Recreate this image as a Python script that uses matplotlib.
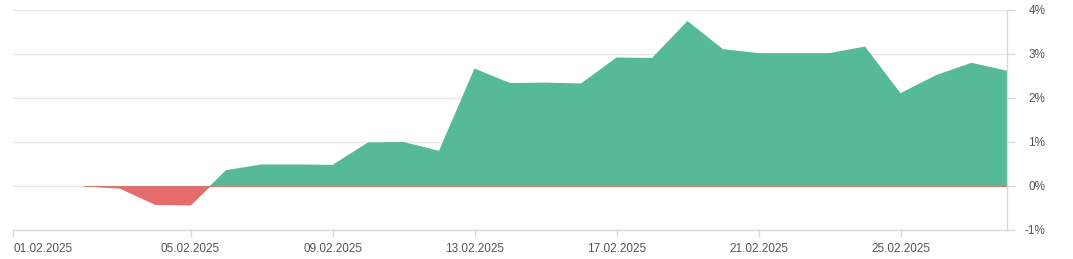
import matplotlib.pyplot as plt
import numpy as np

# days counted from 31.01.2025 (axis starts there)
days = np.arange(2, 29)
values = [0.0, -0.05, -0.42, -0.43, 0.36, 0.49, 0.49, 0.48, 0.99, 1.00, 0.80,
          2.67, 2.34, 2.35, 2.33, 2.92, 2.91, 3.75, 3.11, 3.02, 3.02, 3.02,
          3.17, 2.11, 2.52, 2.80, 2.62]
tick_days = [0, 5, 9, 13, 17, 21, 25]
tick_labels = ['01.02.2025', '05.02.2025', '09.02.2025', '13.02.2025',
               '17.02.2025', '21.02.2025', '25.02.2025']
y_ticks = [-1, 0, 1, 2, 3, 4]

plt.rcParams['font.family'] = ['Liberation Sans', 'DejaVu Sans']

fig = plt.figure(figsize=(10.73, 2.59), dpi=100)
ax = fig.add_axes([13/1073, 1-230/259, (1007-13)/1073, 220/259])

vals = np.array(values)
ax.fill_between(days, vals, 0, where=vals >= 0, interpolate=True,
                color='#43b38d', alpha=0.9, linewidth=0, zorder=2)
ax.fill_between(days, vals, 0, where=vals <= 0, interpolate=True,
                color='#e65b5b', alpha=0.9, linewidth=0, zorder=2)
ax.plot([days[0], days[-1]], [0, 0], color='#c8826e', linewidth=0.8, zorder=3)

ax.set_xlim(0, 28)
ax.set_ylim(-1, 4)

ax.yaxis.tick_right()
ax.set_yticks(y_ticks)
ax.set_yticklabels([f'{v}%' for v in y_ticks])
for lbl in ax.get_yticklabels():
    lbl.set_horizontalalignment('right')
ax.grid(axis='y', color='#e6e6e6', linewidth=1, zorder=0)

ax.set_xticks(tick_days)
ax.set_xticklabels(tick_labels)
ax.get_xticklabels()[0].set_horizontalalignment('left')

for s in ['top', 'left']:
    ax.spines[s].set_visible(False)
for s in ['bottom', 'right']:
    ax.spines[s].set_color('#d8d8d8')
    ax.spines[s].set_linewidth(1)

ax.tick_params(axis='x', colors='#d8d8d8', labelcolor='#555555', labelsize=8.5,
               length=5, width=1, pad=4)
ax.tick_params(axis='y', colors='#d8d8d8', labelcolor='#555555', labelsize=8.5,
               length=6, width=1, pad=21.5)

fig.savefig('out.png', dpi=100)
